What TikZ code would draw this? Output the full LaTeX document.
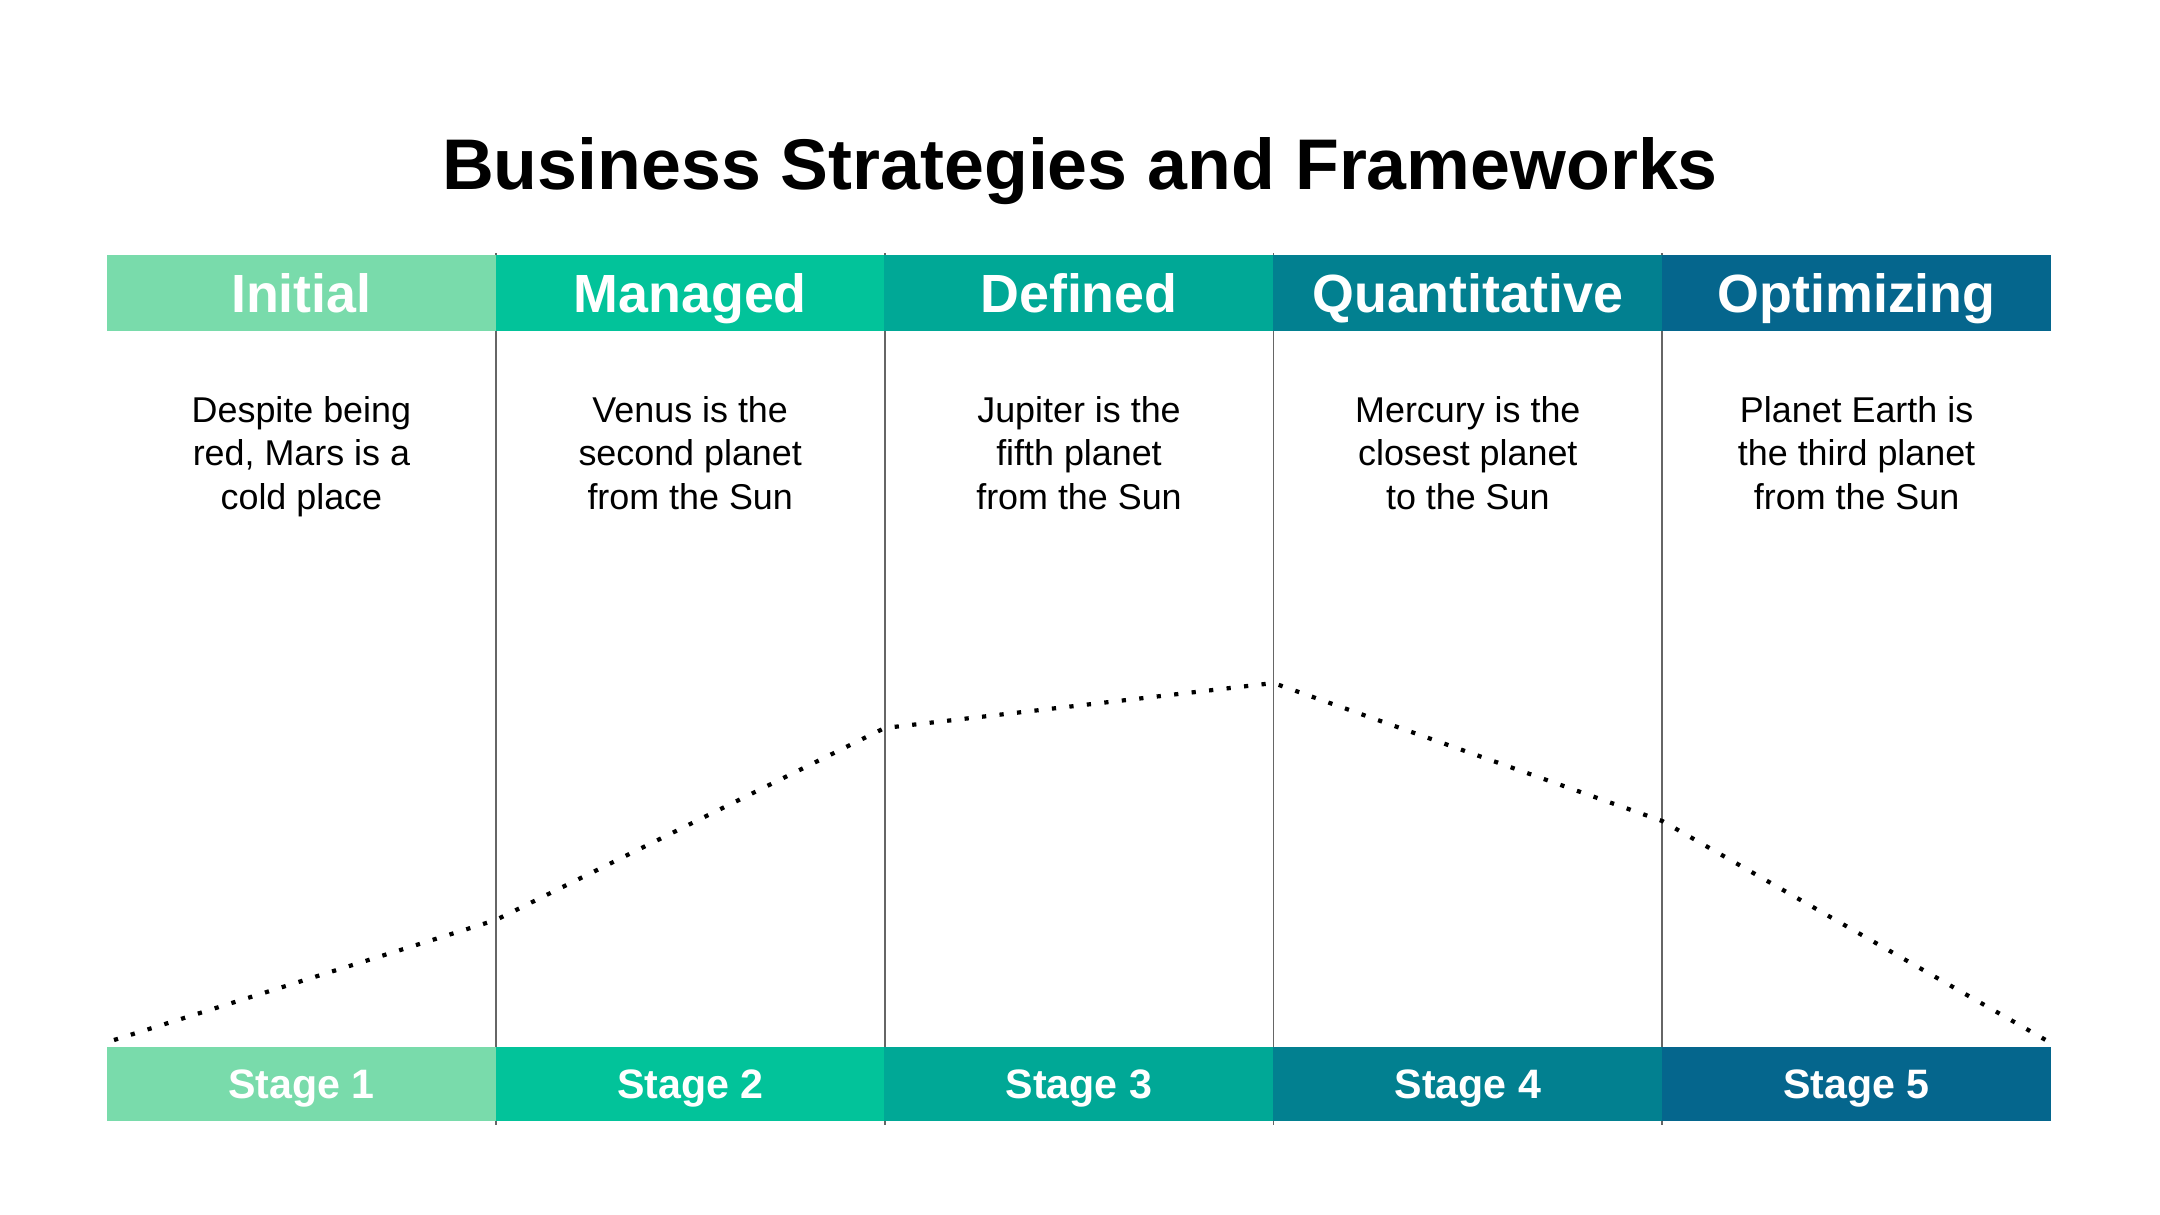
\documentclass[tikz,border=0pt]{standalone}
\usepackage{fontspec}
\setmainfont{Liberation Sans}
\usetikzlibrary{positioning,backgrounds}
\definecolor{tealA}{HTML}{79DBAB}
\definecolor{tealB}{HTML}{02C39A}
\definecolor{tealC}{HTML}{00A896}
\definecolor{tealD}{HTML}{028090}
\definecolor{tealE}{HTML}{05668D}

\begin{document}
\begin{tikzpicture}[x=0.01cm, y=-0.01cm,
  headcell/.style={minimum width=3.888cm, minimum height=0.76cm, inner sep=0pt, outer sep=0pt,
    text=white, font=\fontsize{15.3}{18}\selectfont\bfseries, text height=11pt, text depth=0pt},
  stagecell/.style={minimum width=3.888cm, minimum height=0.74cm, inner sep=0pt, outer sep=0pt,
    text=white, font=\fontsize{11.7}{14}\selectfont\bfseries, text height=8.4pt, text depth=0pt},
  blurb/.style={align=center, anchor=base, font=\fontsize{10.2}{12.35}\selectfont},
  divider/.style={black!60, line width=0.5pt},
  trend/.style={line width=1.2pt, dash pattern=on 1.2pt off 3.8pt}]
  \useasboundingbox (0,0) rectangle (2160,1215);
  % ---------------------------------------------------------------- title
  \node[anchor=base, font=\fontsize{20.4}{24}\selectfont\bfseries] (title) at (1080,189)
    {Business Strategies and Frameworks};
  % ---------------------------------------------------------------- columns
  \foreach \i/\col/\head/\txt in {
      1/tealA/Initial/{Despite being\\red, Mars is a\\cold place},
      2/tealB/Managed/{Venus is the\\second planet\\from the Sun},
      3/tealC/Defined/{Jupiter is the\\fifth planet\\from the Sun},
      4/tealD/Quantitative/{Mercury is the\\closest planet\\to the Sun},
      5/tealE/Optimizing/{Planet Earth is\\the third planet\\from the Sun}} {
    \node[headcell, fill=\col] (h\i) at (107+388.8*\i-194.4,293) {\head};
    \node[stagecell, fill=\col] (s\i) at (107+388.8*\i-194.4,1084) {Stage \i};
    % base = last line
    \node[blurb] (d\i) at (107+388.8*\i-194.4,509) {\txt};
  }
  % dividers behind the bars
  \begin{scope}[on background layer]
    \foreach \i in {1,...,4}
      \draw[divider] ([yshift=0.5pt]h\i.north east) -- ([yshift=-1pt]s\i.south east);
  \end{scope}
  % ---------------------------------------------------------------- trend line
  \coordinate (k0) at (114,1040);
  \coordinate (k1) at (495.8,920);
  \coordinate (k2) at (884.6,728);
  \coordinate (k3) at (1273.4,683);
  \coordinate (k4) at (1662.2,821);
  \coordinate (k5) at (2051,1043);
  \draw[trend] (k0) -- (k1) -- (k2) -- (k3) -- (k4) -- (k5);
\end{tikzpicture}
\end{document}
